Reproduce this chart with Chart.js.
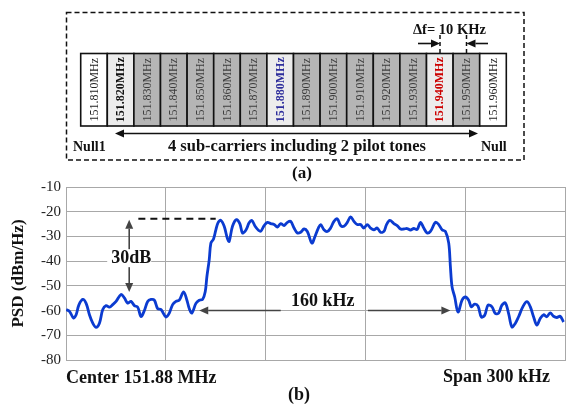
<!DOCTYPE html>
<html>
<head>
<meta charset="utf-8">
<script src="https://cdn.jsdelivr.net/npm/chart.js@4.4.0/dist/chart.umd.min.js"></script>
<style>
  html, body { margin: 0; padding: 0; background: #fff; }
  #psd { display: block; }
</style>
</head>
<body>
<canvas id="psd" width="566" height="405"></canvas>
<script>
// panel (a): sub-carrier grid
var carrierLabels = ["151.810MHz", "151.820MHz", "151.830MHz", "151.840MHz", "151.850MHz", "151.860MHz",
    "151.870MHz", "151.880MHz", "151.890MHz", "151.900MHz", "151.910MHz", "151.920MHz",
    "151.930MHz", "151.940MHz", "151.950MHz", "151.960MHz"];
var carrierKinds = ["null", "pilotBlack", "data", "data", "data", "data", "data", "pilotBlue",
    "data", "data", "data", "data", "data", "pilotRed", "data", "null"];

// panel (b): frequency offset from centre (kHz) and measured PSD (dBm/Hz)
var freqOffset = [-149.9, -147.9, -145.5, -143.9, -142.3, -139.9, -137.9, -135.9, -133.9, -131.9,
    -129.9, -127.9, -125.9, -123.9, -121.9, -119.9, -116.9, -114.9, -112.9, -110.9,
    -108.9, -106.9, -104.9, -102.9, -100.9, -98.9, -96.9, -94.9, -92.9, -89.9,
    -87.9, -85.9, -83.9, -81.9, -79.3, -77.3, -75.9, -74.3, -71.9, -69.9,
    -67.9, -66.3, -65.3, -63.9, -62.9, -61.3, -59.9, -58.5, -56.9, -54.9,
    -52.9, -51.9, -49.9, -47.5, -45.5, -43.9, -41.9, -39.9, -38.3, -36.3,
    -34.3, -32.9, -30.9, -28.9, -26.9, -24.9, -22.9, -20.9, -18.9, -16.9,
    -14.9, -12.9, -10.9, -8.9, -6.9, -4.9, -2.2, -0.3, 1.7, 3.1,
    5.1, 7.1, 9.1, 11.1, 13.1, 15.1, 17.1, 19.1, 21.1, 23.1,
    25.1, 27.1, 29.1, 31.1, 33.1, 35.1, 37.1, 39.1, 41.1, 42.7,
    44.7, 47.1, 49.1, 51.1, 53.1, 55.1, 57.1, 59.1, 61.1, 63.1,
    65.1, 67.1, 69.1, 72.1, 74.1, 76.1, 78.1, 80.1, 81.1, 82.1,
    83.7, 85.7, 88.1, 90.1, 92.1, 93.7, 95.7, 97.7, 99.7, 101.7,
    103.7, 106.1, 108.1, 110.1, 112.1, 114.1, 116.1, 118.1, 120.1, 122.1,
    124.7, 127.1, 129.1, 131.1, 133.1, 135.1, 137.1, 139.1, 141.1, 143.1,
    145.1, 147.1, 149.1];
var psdValues = [-59.6, -60.3, -63, -61.7, -57.8, -55.5, -57.1, -61.7, -65.1, -66.8,
    -65.1, -59.6, -58, -58.6, -57.6, -56.3, -53.5, -54.9, -57, -56.3,
    -58, -58.6, -62.4, -60, -56.3, -55.5, -55.8, -59.2, -59.6, -62.6,
    -61, -57.6, -56.3, -55.8, -52.4, -55.8, -59.2, -61, -57.1, -55.8,
    -55.5, -52.4, -46.3, -39.5, -32.7, -31, -27.3, -24.3, -23.5, -25.9,
    -31, -32, -25.9, -23.2, -24.8, -28.6, -27.5, -24.5, -23.5, -25.9,
    -27.5, -27.9, -25.6, -24.3, -24.8, -25.2, -26.2, -24.8, -25.6, -24.3,
    -23.9, -26.6, -28.6, -28.3, -27, -28, -32.7, -30, -26.6, -25.2,
    -27.3, -28, -26.6, -23.9, -22.9, -25.6, -25.9, -24.3, -22.1, -23.9,
    -25.2, -25.2, -26.6, -25.2, -26.6, -27.3, -26.6, -28.3, -28, -25.2,
    -23.5, -24.8, -25.6, -27, -27, -26.8, -27.4, -26.8, -27.2, -24.3,
    -26.6, -28.6, -28, -24.3, -25.2, -27.3, -28, -32.7, -42.2, -50.4,
    -54.5, -60.6, -55.8, -54.5, -55.8, -58.5, -57.4, -58.2, -62.6, -61.9,
    -57.8, -58.5, -61.2, -61, -57.8, -56.9, -61.2, -66.6, -65.2, -62.5,
    -58.4, -56.4, -58.4, -62.5, -65.9, -63.2, -61.7, -62.5, -60.9, -62.3,
    -62.8, -62.3, -64.6];
var yTicks = [-80, -70, -60, -50, -40, -30, -20, -10];

var serif = "'Liberation Serif', 'Times New Roman', serif";
Chart.defaults.font.family = serif;

function drawArrow(ctx, x1, y1, x2, y2, startHead, endHead, color) {
    var a = Math.atan2(y2 - y1, x2 - x1);
    var hl = 9, hw = 4;
    var c = Math.cos(a), s = Math.sin(a);
    var sx = startHead ? x1 + hl * c : x1, sy = startHead ? y1 + hl * s : y1;
    var ex = endHead ? x2 - hl * c : x2, ey = endHead ? y2 - hl * s : y2;
    ctx.strokeStyle = color;
    ctx.fillStyle = color;
    ctx.lineWidth = 1.6;
    ctx.setLineDash([]);
    ctx.beginPath();
    ctx.moveTo(sx, sy);
    ctx.lineTo(ex, ey);
    ctx.stroke();
    function head(tx, ty, bx, by) {
        ctx.beginPath();
        ctx.moveTo(tx, ty);
        ctx.lineTo(bx - hw * s, by + hw * c);
        ctx.lineTo(bx + hw * s, by - hw * c);
        ctx.closePath();
        ctx.fill();
    }
    if (startHead) head(x1, y1, sx, sy);
    if (endHead) head(x2, y2, ex, ey);
}

function drawPanelA(ctx) {
    // dashed frame
    ctx.save();
    ctx.strokeStyle = "#111";
    ctx.lineWidth = 1.5;
    ctx.setLineDash([5, 3]);
    ctx.strokeRect(66.5, 12.5, 457.5, 147.5);
    ctx.restore();

    var x0 = 80.7, w = 26.6, top = 53.5, h = 72.5;
    ctx.save();
    for (var i = 0; i < carrierLabels.length; i++) {
        var kind = carrierKinds[i];
        var fill = "#ffffff", txt = "#222", weight = "normal";
        if (kind === "data") { fill = "#b5b5b5"; txt = "#3c3c3c"; }
        if (kind.indexOf("pilot") === 0) { fill = "#ececec"; weight = "bold"; }
        if (kind === "pilotBlack") txt = "#111";
        if (kind === "pilotBlue") txt = "#2e2e9c";
        if (kind === "pilotRed") txt = "#cc0000";
        var cx = x0 + i * w;
        ctx.fillStyle = fill;
        ctx.fillRect(cx, top, w, h);
        ctx.strokeStyle = "#111";
        ctx.lineWidth = 1.6;
        ctx.strokeRect(cx, top, w, h);
        ctx.save();
        ctx.translate(cx + w / 2, top + h / 2);
        ctx.rotate(-Math.PI / 2);
        ctx.scale(1, 1.12);
        ctx.fillStyle = txt;
        ctx.font = weight + " 12px " + serif;
        ctx.textAlign = "center";
        ctx.textBaseline = "middle";
        ctx.fillText(carrierLabels[i], 0, 0);
        ctx.restore();
    }
    ctx.restore();

    ctx.save();
    drawArrow(ctx, 115, 133.5, 478, 133.5, true, true, "#111");
    ctx.fillStyle = "#111";
    ctx.font = "bold 16.5px " + serif;
    ctx.textBaseline = "middle";
    ctx.textAlign = "center";
    ctx.fillText("4 sub-carriers including 2 pilot tones", 297, 147);
    ctx.font = "bold 14px " + serif;
    ctx.textAlign = "left";
    ctx.fillText("Null1", 73, 147);
    ctx.fillText("Null", 481, 147);

    // delta f marker
    ctx.font = "bold 14.5px " + serif;
    ctx.fillText("\u0394f= 10 KHz", 413, 30);
    ctx.setLineDash([4, 3]);
    ctx.lineWidth = 1.5;
    ctx.beginPath();
    ctx.moveTo(440, 35); ctx.lineTo(440, 53);
    ctx.moveTo(466.5, 35); ctx.lineTo(466.5, 53);
    ctx.stroke();
    drawArrow(ctx, 418, 43.5, 440, 43.5, false, true, "#111");
    drawArrow(ctx, 488, 43.5, 466.5, 43.5, false, true, "#111");

    ctx.fillStyle = "#111";
    ctx.font = "bold 17px " + serif;
    ctx.textAlign = "center";
    ctx.textBaseline = "middle";
    ctx.fillText("(a)", 302, 174);
    ctx.restore();
}

var overlay = {
    id: "overlay",
    afterDraw: function (chart) {
        var ctx = chart.ctx;
        var xs = chart.scales.x, ys = chart.scales.y;
        drawPanelA(ctx);

        ctx.save();
        // 30 dB marker
        ctx.strokeStyle = "#111";
        ctx.lineWidth = 2;
        ctx.setLineDash([7, 5]);
        ctx.beginPath();
        ctx.moveTo(xs.getPixelForValue(-106.5), ys.getPixelForValue(-22.8));
        ctx.lineTo(xs.getPixelForValue(-60), ys.getPixelForValue(-22.8));
        ctx.stroke();
        var ax = xs.getPixelForValue(-112);
        drawArrow(ctx, ax, ys.getPixelForValue(-23.3), ax, ys.getPixelForValue(-52.5), true, true, "#444");
        ctx.font = "bold 18px " + serif;
        ctx.textAlign = "center";
        ctx.textBaseline = "middle";
        var ty = ys.getPixelForValue(-38.8);
        ctx.fillStyle = "#fff";
        ctx.fillRect(ax - 22, ty - 9, 44, 18);
        ctx.fillStyle = "#111";
        ctx.fillText("30dB", ax + 2, ty);

        // 160 kHz marker
        var ay = ys.getPixelForValue(-60);
        drawArrow(ctx, xs.getPixelForValue(-20.9), ay, xs.getPixelForValue(-69.9), ay, false, true, "#444");
        drawArrow(ctx, xs.getPixelForValue(31.5), ay, xs.getPixelForValue(81.1), ay, false, true, "#444");
        ctx.fillStyle = "#111";
        ctx.fillText("160 kHz", xs.getPixelForValue(4.4), ys.getPixelForValue(-56.4));

        // axis captions
        ctx.textAlign = "left";
        ctx.textBaseline = "alphabetic";
        ctx.fillText("Center 151.88 MHz", 66, 382.5);
        ctx.fillText("Span 300 kHz", 443, 381.5);
        ctx.textAlign = "center";
        ctx.textBaseline = "middle";
        ctx.fillText("(b)", 299, 395);
        ctx.restore();
    }
};

var points = freqOffset.map(function (f, i) { return { x: f, y: psdValues[i] }; });

new Chart(document.getElementById("psd"), {
    type: "line",
    data: {
        datasets: [{
            label: "PSD",
            data: points,
            borderColor: "#0b3bd0",
            borderWidth: 2.8,
            pointRadius: 0,
            tension: 0.35,
            fill: false
        }]
    },
    options: {
        responsive: false,
        animation: false,
        layout: { padding: { top: 187, right: 1, bottom: 45, left: 0 } },
        plugins: { legend: { display: false }, tooltip: { enabled: false } },
        scales: {
            x: {
                type: "linear",
                min: -150,
                max: 150,
                ticks: { display: false, stepSize: 60 },
                grid: { color: "#a8a8a8", drawTicks: false },
                border: { color: "#a8a8a8" },
                afterFit: function (scale) { scale.height = 0; }
            },
            y: {
                min: -80,
                max: -10,
                afterBuildTicks: function (scale) {
                    scale.ticks = yTicks.map(function (v) { return { value: v }; });
                },
                ticks: { color: "#222", padding: 5, font: { size: 15 } },
                grid: { color: "#a8a8a8", drawTicks: false },
                border: { color: "#a8a8a8" },
                title: {
                    display: true,
                    text: "PSD (dBm/Hz)",
                    color: "#111",
                    padding: { top: 8, bottom: 0 },
                    font: { size: 17, weight: "bold" }
                },
                afterFit: function (scale) { scale.width = 66; }
            }
        }
    },
    plugins: [overlay]
});
</script>
</body>
</html>
